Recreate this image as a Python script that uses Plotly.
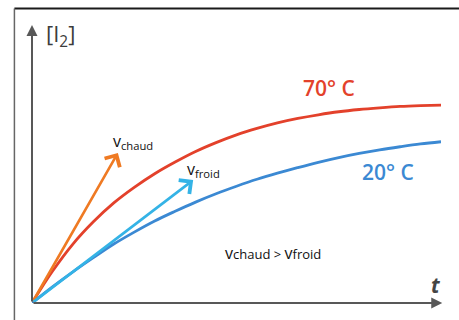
import plotly.graph_objects as go

# ---- data ----
t = [0, 0.5, 1, 1.5, 2, 2.5, 3, 3.5, 4, 4.5, 5, 5.5, 6, 6.5, 7, 7.5, 8, 8.5, 9, 9.5, 10]
i2_70 = [0, 0.114, 0.212, 0.292, 0.36, 0.416, 0.465, 0.507, 0.545, 0.577, 0.605,
         0.628, 0.648, 0.664, 0.677, 0.688, 0.696, 0.702, 0.707, 0.71, 0.712]
i2_20 = [0, 0.058, 0.112, 0.163, 0.212, 0.255, 0.295, 0.33, 0.363, 0.393, 0.42,
         0.445, 0.467, 0.487, 0.506, 0.523, 0.538, 0.551, 0.562, 0.572, 0.58]
v_chaud_tip = (2.1, 0.54)
v_froid_tip = (3.94, 0.442)

RED = "#e3412b"
BLUE = "#3b89d3"
ORANGE = "#ef7a23"
CYAN = "#34b3e6"
GREY = "#585858"
FONT = "Open Sans"

fig = go.Figure()
fig.add_trace(go.Scatter(x=t, y=i2_70, mode="lines", line=dict(color=RED, width=2.8, shape="spline", smoothing=1), hoverinfo="skip"))
fig.add_trace(go.Scatter(x=t, y=i2_20, mode="lines", line=dict(color=BLUE, width=2.8, shape="spline", smoothing=1), hoverinfo="skip"))

# tangent arrows
for tip, col in [(v_chaud_tip, ORANGE), (v_froid_tip, CYAN)]:
    fig.add_annotation(x=tip[0], y=tip[1], ax=0, ay=0, xref="x", yref="y", axref="x", ayref="y",
                       showarrow=True, arrowhead=4, arrowsize=1.3, arrowwidth=2.6, arrowcolor=col, text="")

# axes arrows
fig.add_annotation(x=10.03, y=0, ax=0, ay=0, xref="x", yref="y", axref="x", ayref="y",
                   showarrow=True, arrowhead=2, arrowsize=1.1, arrowwidth=2, arrowcolor=GREY, text="")
fig.add_annotation(x=0, y=1.0, ax=0, ay=0, xref="x", yref="y", axref="x", ayref="y",
                   showarrow=True, arrowhead=2, arrowsize=1.1, arrowwidth=2, arrowcolor=GREY, text="")

# frame lines
fig.add_shape(type="line", xref="paper", yref="paper", x0=-0.043, x1=1.05, y0=1.059, y1=1.059,
              line=dict(color="#1a1a1a", width=2))
fig.add_shape(type="line", xref="paper", yref="paper", x0=-0.043, x1=-0.043, y0=1.059, y1=-0.07,
              line=dict(color="#666666", width=1.5))

def txt(x, y, s, size, color, weight=None, style=None):
    f = dict(family=FONT, size=size, color=color)
    if weight:
        f["weight"] = weight
    if style:
        f["style"] = style
    fig.add_annotation(x=x, y=y, xref="x", yref="y", text=s, showarrow=False, font=f,
                       xanchor="center", yanchor="middle")

txt(0.7, 0.965, "[I<sub>2</sub>]", 22, "#3c3c3c", weight=500)
txt(7.25, 0.772, "70° C", 21, RED, weight=600)
txt(8.7, 0.47, "20° C", 21, BLUE, weight=600)
txt(2.46, 0.58, "v<sub>chaud</sub>", 16, "#111111")
txt(4.2, 0.48, "v<sub>froid</sub>", 16, "#111111")
txt(5.9, 0.18, "<span style='font-size:16px'>v</span>chaud > <span style='font-size:16px'>v</span>froid", 13, "#111111")
txt(9.87, 0.065, "t", 21, "#444444", weight=700, style="italic")

fig.update_layout(
    width=459, height=320,
    margin=dict(l=32, r=18, t=25, b=17),
    paper_bgcolor="white", plot_bgcolor="white",
    showlegend=False,
    xaxis=dict(range=[0, 10], visible=False, fixedrange=True),
    yaxis=dict(range=[0, 1], visible=False, fixedrange=True),
)

fig.write_html("out.html", post_script="document.body.style.margin='0';",
               config={"displayModeBar": False})
